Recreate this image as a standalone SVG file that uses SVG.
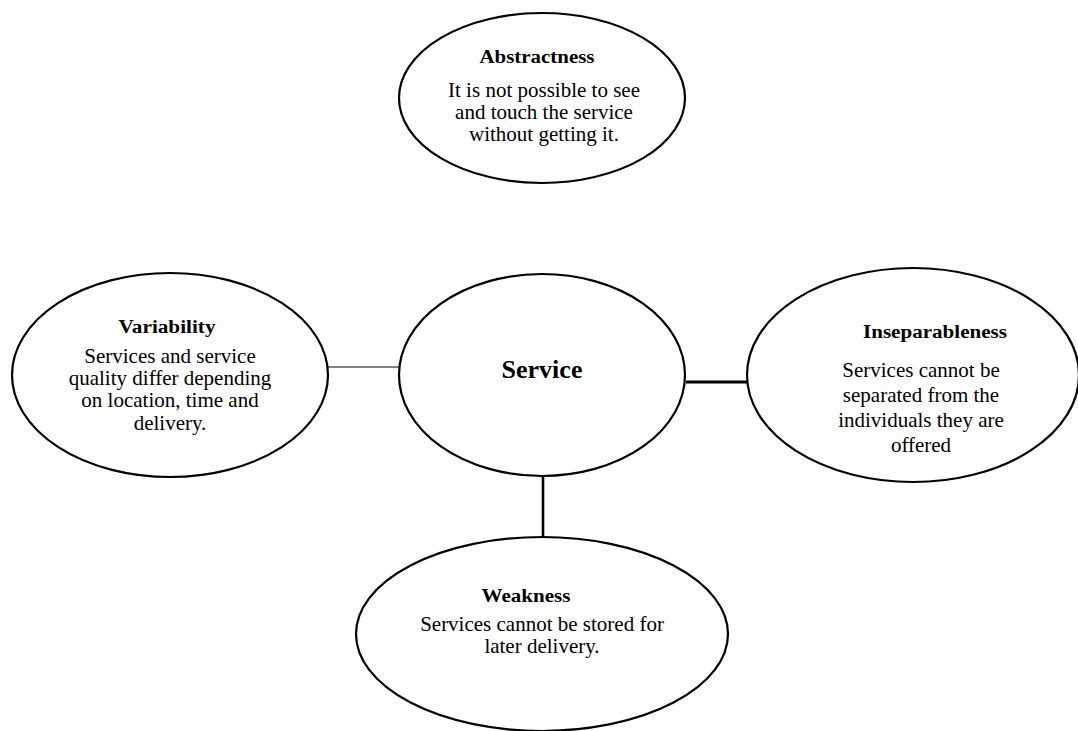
<svg xmlns="http://www.w3.org/2000/svg" width="1078" height="731" viewBox="0 0 1078 731">
  <style>
    .shape { fill: #ffffff; stroke: #000000; stroke-width: 2.2; }
    .title { font-family: "Liberation Serif", "Times New Roman", serif; font-weight: bold; font-size: 18.5px; fill: #000000; text-anchor: middle; }
    .body { font-family: "Liberation Serif", "Times New Roman", serif; font-size: 21px; fill: #000000; text-anchor: middle; }
    .core { font-family: "Liberation Serif", "Times New Roman", serif; font-weight: bold; font-size: 26px; fill: #000000; text-anchor: middle; }
    .link { stroke: #000000; fill: none; }
  </style>
  <rect width="1078" height="731" fill="#ffffff"/>

  <!-- links between the centre and the four characteristics -->
  <g id="connectors">
    <line class="link" x1="328" y1="367" x2="404" y2="367" stroke-width="1.2"/>
    <line class="link" x1="686" y1="382" x2="753" y2="382" stroke-width="3"/>
    <line class="link" x1="543" y1="476" x2="543" y2="538" stroke-width="2.6"/>
  </g>

  <g id="abstractness">
    <ellipse class="shape" cx="542" cy="98" rx="143" ry="85"/>
    <text class="title" x="537" y="63" textLength="115" lengthAdjust="spacingAndGlyphs">Abstractness</text>
    <text class="body" x="544" y="97">It is not possible to see</text>
    <text class="body" x="544" y="119">and touch the service</text>
    <text class="body" x="544" y="141">without getting it.</text>
  </g>

  <g id="variability">
    <ellipse class="shape" cx="170" cy="375" rx="158" ry="102"/>
    <text class="title" x="167" y="333" textLength="97" lengthAdjust="spacingAndGlyphs">Variability</text>
    <text class="body" x="170" y="363">Services and service</text>
    <text class="body" x="170" y="385">quality differ depending</text>
    <text class="body" x="170" y="407">on location, time and</text>
    <text class="body" x="170" y="430">delivery.</text>
  </g>

  <g id="service">
    <ellipse class="shape" cx="542" cy="375" rx="143" ry="101"/>
    <text class="core" x="542" y="378">Service</text>
  </g>

  <g id="inseparableness">
    <ellipse class="shape" cx="913" cy="375" rx="166" ry="107"/>
    <text class="title" x="935" y="338" textLength="144" lengthAdjust="spacingAndGlyphs">Inseparableness</text>
    <text class="body" x="921" y="377">Services cannot be</text>
    <text class="body" x="921" y="402">separated from the</text>
    <text class="body" x="921" y="427">individuals they are</text>
    <text class="body" x="921" y="452">offered</text>
  </g>

  <g id="weakness">
    <ellipse class="shape" cx="542" cy="634" rx="186" ry="97"/>
    <text class="title" x="526" y="602" textLength="89" lengthAdjust="spacingAndGlyphs">Weakness</text>
    <text class="body" x="542" y="631">Services cannot be stored for</text>
    <text class="body" x="542" y="653">later delivery.</text>
  </g>
</svg>
